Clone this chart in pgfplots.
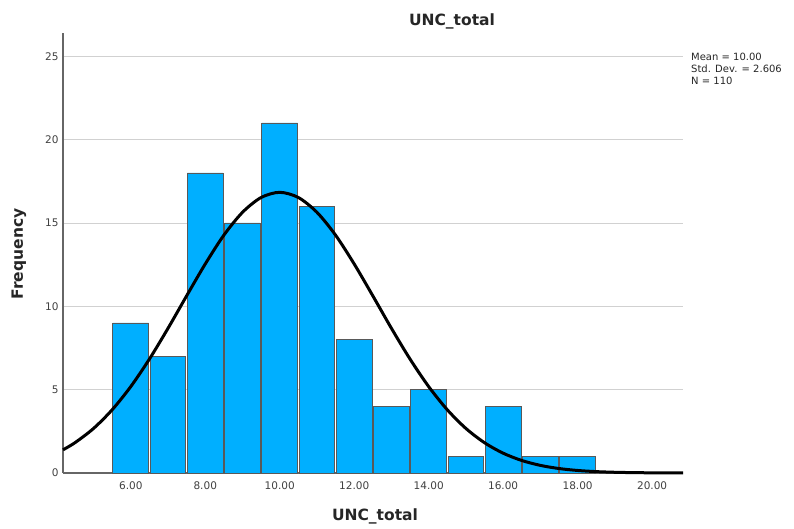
\documentclass[border=0pt]{standalone}
\usepackage{pgfplots}
\pgfplotsset{compat=1.18}
\usepackage{fontspec}
\setmainfont{DejaVu Sans}
\definecolor{barblue}{RGB}{0,175,255}
\begin{document}
\begin{tikzpicture}[x=1pt,y=1pt]
\useasboundingbox (0pt,0pt) rectangle (794pt,529pt);
\begin{axis}[
  at={(63pt,56pt)}, anchor=south west,
  scale only axis, width=620pt, height=440pt,
  xmin=4.18, xmax=20.83, ymin=0, ymax=26.4,
  axis x line*=bottom, axis y line*=left,
  axis line style={-, draw=black!60, line width=1.2pt},
  xtick={6,8,...,20}, ytick={0,5,...,25},
  major tick length=0pt,
  ymajorgrids, grid style={black!18, line width=0.9pt},
  /pgf/number format/assume math mode=true,
  xticklabel style={/pgf/number format/fixed, /pgf/number format/fixed zerofill, /pgf/number format/precision=2, font=\fontsize{10.5}{12}\selectfont, text=black!75, yshift=-5pt},
  yticklabel style={font=\fontsize{10.5}{12}\selectfont, text=black!75, xshift=-1pt},
  clip=false,
]
\addplot[ybar, bar width=0.96, fill=barblue, draw=black!65, line width=0.9pt] coordinates {
(6,9) (7,7) (8,18) (9,15) (10,21) (11,16) (12,8) (13,4) (14,5) (15,1) (16,4) (17,1) (18,1)};
\addplot[black, line width=3pt, smooth] coordinates {
(4.18,1.391) (4.5,1.816) (5,2.672) (5.5,3.793) (6,5.185) (6.5,6.834) (7,8.681) (7.5,10.63) (8,12.54) (8.5,14.27) (9,15.64) (9.5,16.53) (10,16.84) (10.5,16.53) (11,15.64) (11.5,14.27) (12,12.54) (12.5,10.63) (13,8.681) (13.5,6.834) (14,5.185) (14.5,3.793) (15,2.672) (15.5,1.816) (16,1.189) (16.5,0.7506) (17,0.4567) (17.5,0.2678) (18,0.1514) (18.5,0.0824) (19,0.0433) (19.5,0.0219) (20,0.0107) (20.5,0.005) (20.83,0.003)};
\end{axis}
\node[font=\bfseries\fontsize{15.5}{18}\selectfont, text=black!85] at (452pt,508pt) {UNC\_total};
\node[font=\bfseries\fontsize{15.5}{18}\selectfont, text=black!85] at (375pt,13pt) {UNC\_total};
\node[font=\bfseries\fontsize{15.5}{18}\selectfont, text=black!85, rotate=90] at (19pt,275pt) {Frequency};
\node[anchor=north west, align=left, inner sep=0pt, font=\fontsize{10}{12}\selectfont, text=black!85] at (691pt,476pt) {Mean = 10.00\\Std. Dev. = 2.606\\N = 110};
\end{tikzpicture}
\end{document}
